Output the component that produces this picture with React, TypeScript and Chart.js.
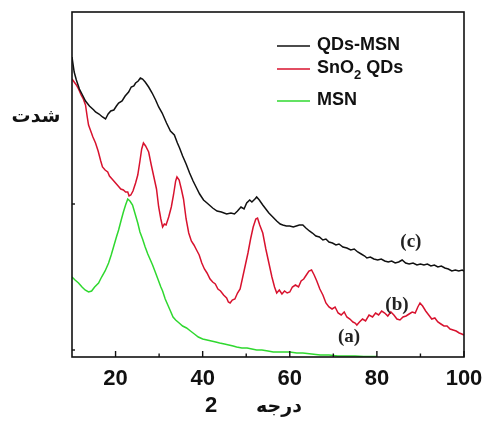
import React, { useEffect, useRef } from "react";
import { Chart, registerables } from "chart.js";

Chart.register(...registerables);

// ---- Data (2θ in degrees, intensity in arbitrary units) ----
const qdsMsnTheta = [10.0,10.5,11.0,11.7,12.4,13.1,14.0,15.0,15.4,16.2,17.0,17.7,18.3,18.9,19.6,20.2,20.7,21.5,22.2,23.0,23.6,24.2,24.6,25.2,25.7,26.2,26.8,27.6,28.4,29.2,29.9,30.7,31.7,32.6,33.5,34.2,34.7,35.4,36.2,37.0,37.8,38.6,39.3,40.2,41.0,42.3,43.3,44.3,45.5,46.5,47.3,48.0,48.8,49.5,50.1,50.8,51.3,52.0,52.4,53.0,53.8,54.5,55.2,56.1,57.0,57.8,58.4,59.2,60.0,60.8,61.5,62.2,63.0,63.7,64.5,65.2,66.0,66.8,67.6,68.3,69.0,69.8,70.6,71.3,72.2,73.1,74.0,74.8,75.6,76.4,77.2,77.7,78.5,79.3,80.2,81.0,81.8,82.6,83.4,84.2,85.0,85.8,86.6,87.4,88.3,89.2,90.0,90.8,91.6,92.4,93.2,94.0,94.8,95.6,96.4,97.2,98.0,98.8,99.6,100];
const qdsMsnIntensity = [300,285,277,268,262,256,251,247,245,243,240,238,243,246,247,251,254,256,261,265,270,271,274,276,279,278,275,270,264,257,250,244,234,226,222,214,209,201,193,184,176,169,163,157,154,149,146,145,143,144,143,146,150,148,154,157,155,158,160,157,152,148,144,140,136,133,132,131,131,130,131,132,132,129,126,124,121,120,117,118,115,114,112,113,110,109,107,108,105,103,101,99,100,98,97,98,96,95,96,94,95,97,94,93,94,92,93,92,93,91,92,90,91,89,88,86,87,86,87,86];

const sno2Theta = [10.0,10.5,11.0,11.5,12.1,12.6,13.1,13.5,13.8,14.3,14.8,15.4,16.0,16.6,17.0,17.6,18.2,18.6,19.2,20.0,20.6,21.2,21.8,22.3,22.8,23.1,23.5,24.0,24.6,25.1,25.6,26.0,26.4,26.9,27.6,28.2,28.8,29.4,29.9,30.4,30.8,31.2,31.6,32.2,32.8,33.3,33.8,34.1,34.6,35.1,35.6,36.2,36.8,37.4,38.0,38.6,39.2,39.8,40.4,41.0,41.7,42.3,42.9,43.5,44.1,44.8,45.5,45.9,46.3,46.8,47.4,48.0,48.6,49.2,49.8,50.4,51.0,51.6,52.2,52.6,53.1,53.8,54.5,55.2,55.9,56.5,57.0,57.6,58.2,58.8,59.4,60.0,60.6,61.3,62.0,62.6,63.2,63.8,64.4,65.0,65.6,66.2,66.9,67.6,68.3,69.0,69.7,70.4,71.1,71.8,72.5,73.1,73.8,74.5,75.0,75.4,76.0,76.7,77.4,78.2,79.0,79.7,80.4,81.1,81.8,82.5,83.2,83.9,84.6,85.3,86.0,86.7,87.4,88.1,88.8,89.4,89.9,90.5,91.2,91.9,92.6,93.3,94.0,94.7,95.4,96.1,96.8,97.5,98.2,98.9,99.5,100];
const sno2Intensity = [278,275,272,268,262,258,252,240,232,226,220,214,206,196,190,187,185,181,178,174,171,168,167,165,165,161,162,166,174,182,196,208,214,211,205,192,180,168,150,138,130,133,132,140,150,162,176,180,177,168,158,138,124,116,112,107,102,94,88,84,78,75,73,68,66,62,59,55,54,57,58,64,68,80,92,104,118,130,138,139,132,124,108,94,80,70,64,67,63,66,64,65,70,72,70,76,78,82,86,87,82,76,68,62,54,50,48,50,44,42,45,40,38,35,34,32,35,38,36,42,40,44,42,46,44,41,45,42,38,37,40,41,43,45,44,50,54,51,46,42,38,39,35,33,31,31,28,27,26,24,23,22];

const msnTheta = [10.0,10.7,11.5,12.3,13.0,13.8,14.5,15.2,16.1,16.8,17.6,18.4,19.0,19.6,20.2,20.7,21.3,21.8,22.3,22.8,23.3,23.9,24.5,25.1,25.6,26.2,26.8,27.4,28.0,28.5,29.2,29.8,30.4,30.8,31.4,32.0,32.6,33.2,33.8,34.6,35.4,36.3,37.2,38.1,39.0,40.0,41.0,42.0,43.0,43.9,45.0,46.0,47.0,47.8,49.0,50.2,51.3,52.4,53.6,55.0,56.2,57.5,58.8,60.0,61.6,63.0,65.0,67.0,69.0,71.0,73.0,75.0,77.0,79.0,80.0];
const msnIntensity = [80,77,74,70,67,65,66,70,74,80,86,94,102,111,120,127,137,145,152,158,156,152,143,134,125,118,110,103,97,92,84,77,70,66,58,52,46,40,37,34,31,29,26,23,20,18,17,16,15,14,13,12,11,10,9,9,8,7,7,6,5,5,5,5,4,4,3,2,2,1,1,1,0.5,0.5,0.5];

const seriesNames = ["QDs-MSN", "SnO2 QDs", "MSN"];
const seriesColors = ["#111111", "#d8122e", "#2fd82f"];
const xTickLabels = [20, 40, 60, 80, 100];
const xMinorTicks = [30, 50, 70, 90];
const yTickMarks = [7, 153];
const curveLabels = ["(c)", "(b)", "(a)"];
const curveLabelTheta = [87.8, 84.6, 73.6];
const curveLabelIntensity = [115, 52, 20];
const xTitleNumber = "2";
const xTitleText = "درجه";
const yTitleText = "شدت";

const toPoints = (xs: number[], ys: number[]) => xs.map((x, i) => ({ x, y: ys[i] }));

const decorPlugin = {
  id: "decor",
  afterDraw(chart: any) {
    const { ctx, chartArea } = chart;
    const xs = chart.scales.x;
    const ys = chart.scales.y;
    const { left, right, top, bottom } = chartArea;
    ctx.save();
    // frame
    ctx.strokeStyle = "#111";
    ctx.lineWidth = 1.6;
    ctx.strokeRect(left, top, right - left, bottom - top);
    // inward ticks bottom
    ctx.lineWidth = 1.4;
    xTickLabels.forEach((v) => {
      const px = xs.getPixelForValue(v);
      ctx.beginPath();
      ctx.moveTo(px, bottom);
      ctx.lineTo(px, bottom - 6);
      ctx.stroke();
    });
    xMinorTicks.forEach((v) => {
      const px = xs.getPixelForValue(v);
      ctx.beginPath();
      ctx.moveTo(px, bottom);
      ctx.lineTo(px, bottom - 3.5);
      ctx.stroke();
    });
    yTickMarks.forEach((v) => {
      const py = ys.getPixelForValue(v);
      ctx.beginPath();
      ctx.moveTo(left, py);
      ctx.lineTo(left + 3, py);
      ctx.stroke();
    });
    // legend
    const legX0 = 277, legX1 = 310, textX = 317;
    const legY = [46, 69, 101];
    ctx.textBaseline = "middle";
    ctx.textAlign = "left";
    legY.forEach((y, i) => {
      ctx.strokeStyle = seriesColors[i];
      ctx.lineWidth = 1.5;
      ctx.beginPath();
      ctx.moveTo(legX0, y);
      ctx.lineTo(legX1, y);
      ctx.stroke();
      ctx.fillStyle = "#111";
      ctx.font = "bold 18px 'Liberation Sans', Arial, sans-serif";
      const name = seriesNames[i];
      if (name.startsWith("SnO2")) {
        const a = "SnO";
        ctx.fillText(a, textX, y - 1);
        let w = ctx.measureText(a).width;
        ctx.font = "bold 13px 'Liberation Sans', Arial, sans-serif";
        ctx.fillText("2", textX + w, y + 6);
        w += ctx.measureText("2").width;
        ctx.font = "bold 18px 'Liberation Sans', Arial, sans-serif";
        ctx.fillText(name.slice(4), textX + w, y - 1);
      } else {
        ctx.fillText(name, textX, y - 1);
      }
    });
    // curve labels
    ctx.font = "bold 19px 'Liberation Serif', 'Times New Roman', serif";
    ctx.fillStyle = "#222";
    ctx.textAlign = "center";
    curveLabels.forEach((t, i) => {
      ctx.fillText(t, xs.getPixelForValue(curveLabelTheta[i]), ys.getPixelForValue(curveLabelIntensity[i]));
    });
    // axis titles
    ctx.fillStyle = "#111";
    ctx.font = "bold 22px 'Liberation Sans', Arial, sans-serif";
    ctx.fillText(xTitleNumber, 211, 406);
    ctx.font = "bold 19px 'DejaVu Sans', sans-serif";
    ctx.fillText(xTitleText, 279, 407);
    ctx.fillText(yTitleText, 36, 117);
    ctx.restore();
  },
};

export default function App() {
  const ref = useRef<HTMLCanvasElement | null>(null);
  useEffect(() => {
    if (!ref.current) return;
    const chart = new Chart(ref.current, {
      type: "line",
      data: {
        datasets: [
          { label: seriesNames[0], data: toPoints(qdsMsnTheta, qdsMsnIntensity), borderColor: seriesColors[0], borderWidth: 1.5, pointRadius: 0, tension: 0, fill: false },
          { label: seriesNames[1], data: toPoints(sno2Theta, sno2Intensity), borderColor: seriesColors[1], borderWidth: 1.5, pointRadius: 0, tension: 0, fill: false },
          { label: seriesNames[2], data: toPoints(msnTheta, msnIntensity), borderColor: seriesColors[2], borderWidth: 1.5, pointRadius: 0, tension: 0, fill: false },
        ],
      },
      options: {
        animation: false,
        responsive: false,
        layout: { padding: { top: 12, right: 22, left: 0, bottom: 0 } },
        plugins: { legend: { display: false }, tooltip: { enabled: false } },
        scales: {
          x: {
            type: "linear",
            min: 10,
            max: 100,
            border: { display: false },
            grid: { display: false, drawTicks: false },
            afterBuildTicks: (s: any) => {
              s.ticks = xTickLabels.map((v) => ({ value: v }));
            },
            afterFit: (s: any) => {
              s.height = 69;
              s.paddingLeft = 0;
              s.paddingRight = 0;
            },
            ticks: {
              padding: 9,
              color: "#111",
              maxRotation: 0,
              autoSkip: false,
              font: { family: "'Liberation Sans', Arial, sans-serif", size: 22, weight: "bold" },
              callback: (v: any) => String(v),
            },
          },
          y: {
            min: 0,
            max: 345,
            border: { display: false },
            grid: { display: false, drawTicks: false },
            ticks: { display: false },
            afterFit: (s: any) => {
              s.width = 72;
              s.paddingTop = 0;
              s.paddingBottom = 0;
            },
          },
        },
      },
      plugins: [decorPlugin],
    } as any);
    return () => chart.destroy();
  }, []);
  return (
    <div style={{ position: "absolute", left: 0, top: 0, width: 486, height: 426, background: "#fff" }}>
      <canvas ref={ref} width={486} height={426} style={{ display: "block" }} />
    </div>
  );
}
